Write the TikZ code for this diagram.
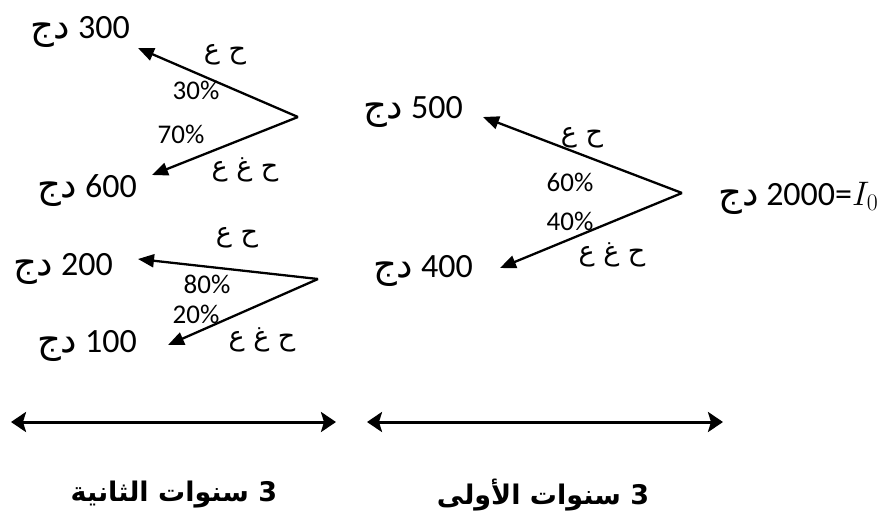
\RequirePackage{fix-cm}
\documentclass[tikz,border=0pt]{standalone}
\usepackage{fontspec}
\setmainfont{Carlito}
\newfontfamily\arabicfont[Script=Arabic]{DejaVu Sans}
\TeXXeTstate=1
\usetikzlibrary{arrows.meta}

% currency sign (Algerian dinar) set right to left
\newcommand\dinar{{\arabicfont\fontsize{37}{44}\selectfont\beginR دج\endR}}

\begin{document}
\begin{tikzpicture}[x=1pt,y=-1pt,
  amount/.style={inner sep=0pt, font=\fontsize{34}{40}\selectfont},
  pct/.style={inner sep=0pt, font=\fontsize{27}{32}\selectfont},
  state/.style={inner sep=0pt, font=\arabicfont\fontsize{27}{32}\selectfont},
  branch/.style={line width=2.3pt, -{Triangle[length=16pt,width=13pt]}},
  span/.style={line width=3pt, {Stealth[length=15pt,width=20pt,inset=3pt]}-{Stealth[length=15pt,width=20pt,inset=3pt]}},
  period/.style={inner sep=0pt, font=\arabicfont\bfseries\fontsize{27}{32}\selectfont}
]
\useasboundingbox (0,0) rectangle (895,515);

% amounts
\node[amount, anchor=base east] (n300) at (130,38)  {\dinar{} 300};
\node[amount, anchor=base east] (n600) at (137,197) {\dinar{} 600};
\node[amount, anchor=base east] (n200) at (113,275) {\dinar{} 200};
\node[amount, anchor=base east] (n100) at (137,352) {\dinar{} 100};
\node[amount, anchor=base east] (n500) at (463,118) {\dinar{} 500};
\node[amount, anchor=base east] (n400) at (473,277) {\dinar{} 400};
\node[amount, anchor=base west] (root) at (718,205) {\dinar{} 2000=$I_0$};

% branching points
\coordinate (aA) at (298,117);
\coordinate (aB) at (318,279);
\coordinate (aC) at (682,193);

% arrow tips beside the amounts
\coordinate (t300) at (138,48);
\coordinate (t600) at (152,175);
\coordinate (t200) at (138,259);
\coordinate (t100) at (168,345);
\coordinate (t500) at (483,117);
\coordinate (t400) at (500,268);

\draw[branch] (aA) -- (t300);
\draw[branch] (aA) -- (t600);
\draw[branch] (aB) -- (t200);
\draw[branch] (aB) -- (t100);
\draw[branch] (aC) -- (t500);
\draw[branch] (aC) -- (t400);

% branch labels
\node[state] (sA1) at (225,55)  {\beginR ح ع\endR};
\node[pct]   (pA1) at (196,90)  {30\%};
\node[pct]   (pA2) at (181,134) {70\%};
\node[state] (sA2) at (245,170) {\beginR ح غ ع\endR};

\node[state] (sB1) at (237,238) {\beginR ح ع\endR};
\node[pct]   (pB1) at (207,284) {80\%};
\node[pct]   (pB2) at (196,314) {20\%};
\node[state] (sB2) at (262,340) {\beginR ح غ ع\endR};

\node[state] (sC1) at (582,138) {\beginR ح ع\endR};
\node[pct]   (pC1) at (570,182) {60\%};
\node[pct]   (pC2) at (570,221) {40\%};
\node[state] (sC2) at (612,255) {\beginR ح غ ع\endR};

% time spans
\coordinate (s2l) at (11,422);
\coordinate (s2r) at (336,422);
\coordinate (s1l) at (367,422);
\coordinate (s1r) at (723,422);
\draw[span] (s2l) -- (s2r);
\draw[span] (s1l) -- (s1r);

\node[period] (y2) at (174,495) {\beginR 3 سنوات الثانية\endR};
\node[period] (y1) at (543,495) {\beginR 3 سنوات الأولى\endR};
\end{tikzpicture}
\end{document}
